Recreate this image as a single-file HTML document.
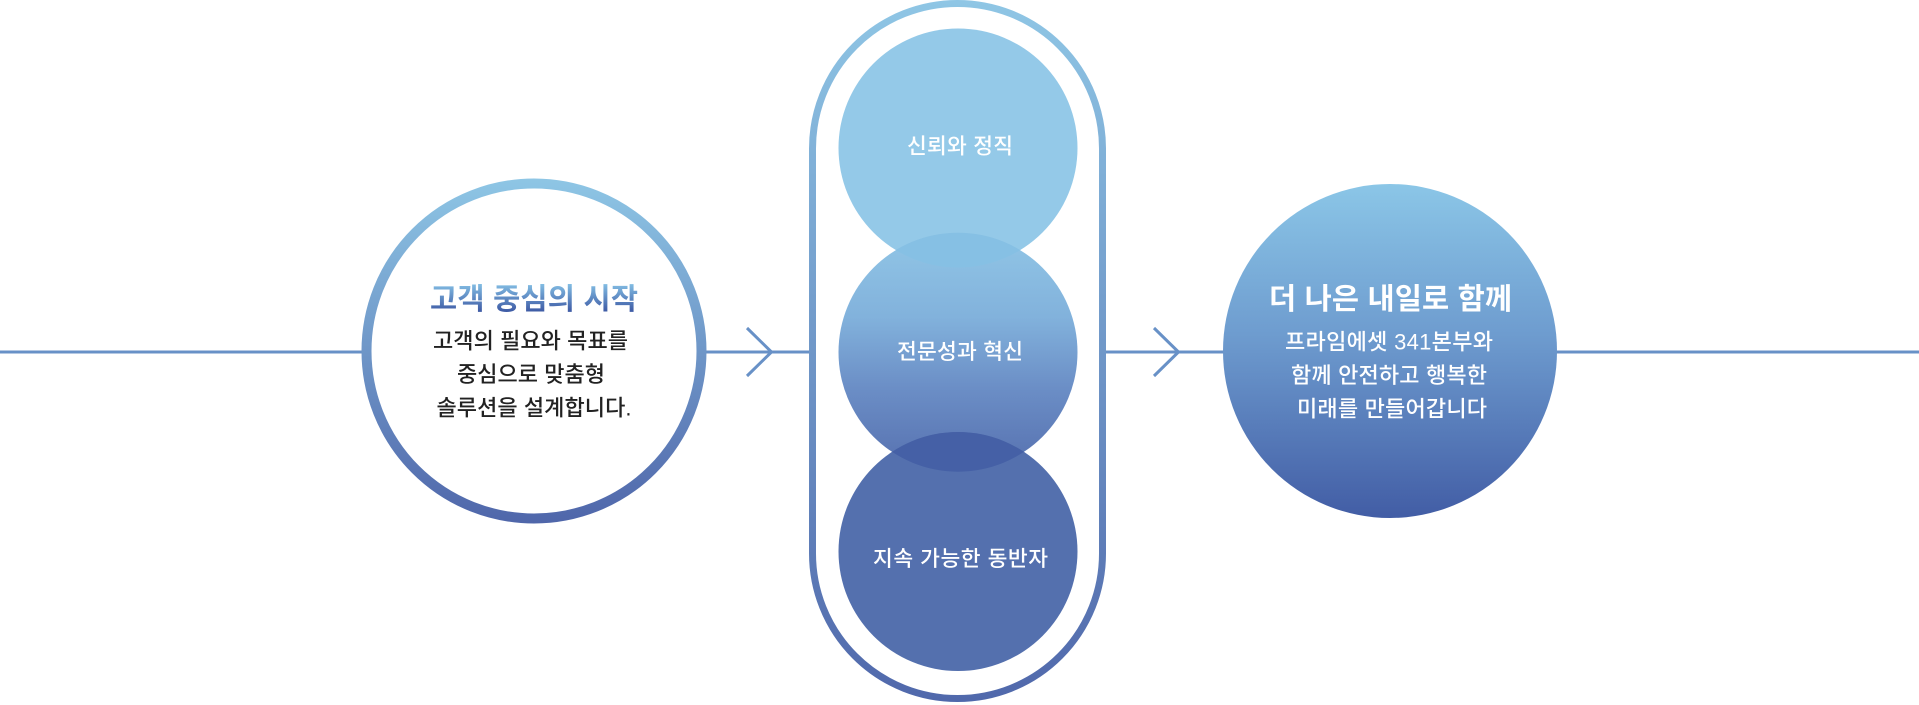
<!DOCTYPE html>
<html lang="ko">
<head>
<meta charset="utf-8">
<style>
  html, body { margin:0; padding:0; background:#ffffff; }
  body { width:1919px; height:705px; overflow:hidden; }
  svg { display:block; }
  text { font-family: "Liberation Sans", "Noto Sans CJK KR", "NanumGothic", sans-serif; }
</style>
</head>
<body>
<svg width="1919" height="705" viewBox="0 0 1919 705" xmlns="http://www.w3.org/2000/svg">
  <defs>
    <linearGradient id="ringL" gradientUnits="userSpaceOnUse" x1="0" y1="178" x2="0" y2="524">
      <stop offset="0" stop-color="#8ec6e5"/>
      <stop offset="1" stop-color="#4f66aa"/>
    </linearGradient>
    <linearGradient id="ringC" gradientUnits="userSpaceOnUse" x1="0" y1="0" x2="0" y2="702">
      <stop offset="0" stop-color="#8fc6e5"/>
      <stop offset="1" stop-color="#5068ab"/>
    </linearGradient>
    <linearGradient id="fillR" gradientUnits="userSpaceOnUse" x1="0" y1="184" x2="0" y2="518">
      <stop offset="0" stop-color="#8bc6e7"/>
      <stop offset="0.45" stop-color="#6e9ccf"/>
      <stop offset="1" stop-color="#425da5"/>
    </linearGradient>
    <linearGradient id="fillM" gradientUnits="userSpaceOnUse" x1="0" y1="233" x2="0" y2="472">
      <stop offset="0" stop-color="#91c6e6"/>
      <stop offset="0.35" stop-color="#82b2dc"/>
      <stop offset="0.65" stop-color="#6b8ec6"/>
      <stop offset="1" stop-color="#5670af"/>
    </linearGradient>
    <linearGradient id="titleL" gradientUnits="userSpaceOnUse" x1="0" y1="284" x2="0" y2="311">
      <stop offset="0" stop-color="#82bde3"/>
      <stop offset="1" stop-color="#3f5ca6"/>
    </linearGradient>
    <clipPath id="clipTop"><circle cx="958" cy="148" r="119.5"/></clipPath>
    <clipPath id="clipMid"><circle cx="958" cy="352.2" r="119.5"/></clipPath>
  </defs>

  <!-- horizontal line -->
  <line x1="0" y1="352" x2="1919" y2="352" stroke="#6891c7" stroke-width="3"/>

  <!-- chevrons -->
  <polyline points="747,328 771.5,352 747,376" fill="none" stroke="#6891c7" stroke-width="3"/>
  <polyline points="1154,328 1178.5,352 1154,376" fill="none" stroke="#6891c7" stroke-width="3"/>

  <!-- left circle -->
  <circle cx="534" cy="351" r="167.5" fill="#ffffff" stroke="url(#ringL)" stroke-width="10"/>
  <text x="534" y="309" text-anchor="middle" font-size="29.5" font-weight="700" fill="url(#titleL)" textLength="208" lengthAdjust="spacing">고객 중심의 시작</text>
  <text x="530.5" y="348.5" text-anchor="middle" font-size="22" font-weight="500" fill="#222222" textLength="195" lengthAdjust="spacing">고객의 필요와 목표를</text>
  <text x="531" y="382" text-anchor="middle" font-size="22" font-weight="500" fill="#222222" textLength="148" lengthAdjust="spacing">중심으로 맞춤형</text>
  <text x="534" y="415.5" text-anchor="middle" font-size="22" font-weight="500" fill="#222222" textLength="195" lengthAdjust="spacing">솔루션을 설계합니다.</text>

  <!-- capsule -->
  <rect x="812.5" y="3.5" width="290" height="695" rx="145" ry="145" fill="#ffffff" stroke="url(#ringC)" stroke-width="7"/>

  <!-- three circles -->
  <circle cx="958" cy="148" r="119.5" fill="#94c9e8"/>
  <circle cx="958" cy="352.2" r="119.5" fill="url(#fillM)"/>
  <circle cx="958" cy="551.5" r="119.5" fill="#5470ae"/>
  <!-- overlaps -->
  <g clip-path="url(#clipTop)">
    <circle cx="958" cy="352.2" r="119.5" fill="#86c0e4"/>
  </g>
  <g clip-path="url(#clipMid)">
    <circle cx="958" cy="551.5" r="119.5" fill="#4560a6"/>
  </g>

  <text x="960" y="153.5" text-anchor="middle" font-size="21.5" font-weight="500" fill="#ffffff" textLength="106" lengthAdjust="spacing">신뢰와 정직</text>
  <text x="960" y="359" text-anchor="middle" font-size="21.5" font-weight="500" fill="#ffffff" textLength="126" lengthAdjust="spacing">전문성과 혁신</text>
  <text x="960.5" y="566" text-anchor="middle" font-size="21.5" font-weight="500" fill="#ffffff" textLength="175" lengthAdjust="spacing">지속 가능한 동반자</text>

  <!-- right circle -->
  <circle cx="1390" cy="351" r="167" fill="url(#fillR)"/>
  <text x="1390.5" y="309" text-anchor="middle" font-size="29.5" font-weight="700" fill="#ffffff" textLength="243" lengthAdjust="spacing">더 나은 내일로 함께</text>
  <text x="1389" y="349.5" text-anchor="middle" font-size="22" font-weight="500" fill="#ffffff" textLength="208" lengthAdjust="spacing">프라임에셋 341본부와</text>
  <text x="1389" y="383" text-anchor="middle" font-size="22" font-weight="500" fill="#ffffff" textLength="196" lengthAdjust="spacing">함께 안전하고 행복한</text>
  <text x="1392" y="416.5" text-anchor="middle" font-size="22" font-weight="500" fill="#ffffff" textLength="190" lengthAdjust="spacing">미래를 만들어갑니다</text>
</svg>
</body>
</html>
